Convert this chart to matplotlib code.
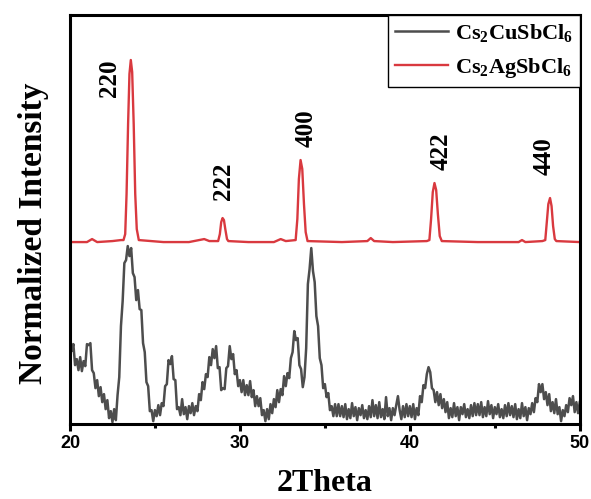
import numpy as np
import matplotlib
matplotlib.use("Agg")
import matplotlib.pyplot as plt
from matplotlib.ticker import MultipleLocator

plt.rcParams['mathtext.fontset'] = 'custom'
plt.rcParams['mathtext.rm'] = 'Liberation Serif:bold'
plt.rcParams['mathtext.bf'] = 'Liberation Serif:bold'
plt.rcParams['mathtext.default'] = 'bf'

# Cs2CuSbCl6, 20.0 .. 50.0 deg in 0.1 deg steps
cu_start, cu_step = 20.0, 0.1
cu_y = [
    90, 73, 80, 59, 65, 54, 67, 53, 63, 58,
    80, 79, 81, 54, 51, 36, 44, 28, 37, 22,
    30, 15, 24, 6, 13, 2, 15, 4, 29, 47,
    98, 123, 161, 164, 178, 168, 176, 151, 147, 124,
    134, 115, 114, 81, 72, 42, 38, 13, 14, 3,
    14, 8, 19, 9, 21, 18, 38, 40, 64, 60,
    68, 45, 44, 15, 17, 9, 25, 10, 17, 5,
    18, 11, 21, 9, 18, 13, 30, 24, 42, 35,
    50, 47, 67, 59, 75, 66, 78, 56, 57, 34,
    36, 35, 56, 58, 78, 65, 70, 50, 54, 38,
    44, 32, 44, 29, 39, 29, 43, 27, 34, 18,
    28, 18, 26, 9, 14, 3, 15, 5, 20, 11,
    25, 17, 34, 22, 35, 29, 48, 38, 51, 46,
    66, 72, 93, 84, 86, 59, 55, 37, 47, 76,
    140, 155, 176, 153, 142, 108, 98, 66, 59, 36,
    40, 27, 31, 14, 18, 8, 20, 8, 20, 8,
    18, 7, 20, 5, 15, 6, 21, 8, 17, 4,
    16, 9, 19, 6, 14, 5, 18, 7, 24, 8,
    19, 6, 22, 7, 15, 5, 27, 8, 16, 4,
    16, 9, 19, 28, 14, 5, 18, 7, 20, 8,
    18, 7, 20, 5, 16, 9, 28, 22, 39, 36,
    50, 57, 52, 36, 34, 22, 32, 19, 30, 16,
    25, 12, 22, 6, 16, 7, 21, 8, 17, 4,
    17, 10, 20, 7, 15, 6, 19, 8, 21, 9,
    20, 9, 22, 7, 17, 8, 23, 10, 19, 6,
    17, 10, 20, 7, 15, 6, 19, 8, 21, 9,
    18, 7, 20, 5, 15, 6, 21, 8, 17, 4,
    16, 10, 21, 12, 26, 22, 40, 32, 40, 25,
    32, 19, 30, 13, 22, 11, 25, 10, 17, 3,
    14, 8, 19, 12, 26, 19, 28, 12, 22, 11,
    22,
]
cu_x = cu_start + cu_step * np.arange(len(cu_y))

# Cs2AgSbCl6 (already shifted up in the figure)
ag_x = [20.0, 21.0, 21.3, 21.6, 22.5, 23.0, 23.15, 23.25, 23.33, 23.42,
        23.5, 23.58, 23.66, 23.75, 23.84, 23.93, 24.05, 25.5, 27.0, 27.9,
        28.2, 28.72, 28.82, 28.9, 28.98, 29.06, 29.14, 29.24, 29.32, 30.5,
        32.0, 32.4, 32.7, 33.28, 33.38, 33.47, 33.57, 33.67, 33.77, 33.87,
        33.98, 36.0, 37.5, 37.7, 37.9, 39.0, 41.0, 41.15, 41.25, 41.35,
        41.45, 41.55, 41.65, 41.76, 41.88, 44.0, 46.4, 46.6, 46.8, 47.8,
        47.97, 48.06, 48.15, 48.25, 48.34, 48.43, 48.53, 48.62, 50.0]
ag_y = [182, 182, 185, 182, 183, 184, 184, 190, 230, 300,
        350, 364, 352, 300, 230, 195, 184, 182, 182, 185,
        183, 183, 190, 202, 206, 204, 195, 185, 183, 182,
        182, 185, 183, 184, 205, 245, 264, 255, 220, 192,
        183, 182, 183, 186, 183, 182, 183, 184, 205, 232,
        241, 234, 210, 188, 183, 182, 182, 184, 182, 183,
        184, 202, 220, 226, 218, 198, 185, 183, 182]

peak_labels = ['220', '222', '400', '422', '440']
label_x = [22.35, 29.06, 33.88, 41.82, 47.9]
label_y = [327, 224, 277, 254, 249]

fig = plt.figure(figsize=(5.91, 4.99), dpi=100)
ax = fig.add_axes([0.1184, 0.150, 0.8626, 0.820])

ax.plot(cu_x, cu_y, color='#4d4d4d', lw=1.8, label=r'Cs$_2$CuSbCl$_6$')
ax.plot(ag_x, ag_y, color='#d9393f', lw=1.7, label=r'Cs$_2$AgSbCl$_6$')

for t, x, y in zip(peak_labels, label_x, label_y):
    ax.text(x, y, t, rotation=90, ha='center', va='bottom',
            family='Liberation Serif', weight='bold', fontsize=18)

ax.set_xlim(20, 50)
ax.set_ylim(0, 409)
ax.set_yticks([])
ax.xaxis.set_major_locator(MultipleLocator(10))
ax.xaxis.set_minor_locator(MultipleLocator(5))
ax.tick_params(axis='x', which='major', direction='out', length=5, width=2.2,
               pad=3, top=False)
ax.tick_params(axis='x', which='minor', direction='out', length=3, width=2.2,
               top=False)
for lab in ax.get_xticklabels():
    lab.set_family('Liberation Sans')
    lab.set_weight('bold')
    lab.set_fontsize(13)
for s in ax.spines.values():
    s.set_linewidth(2.2)

ax.set_xlabel('2Theta', family='Liberation Serif', weight='bold',
              fontsize=23, labelpad=12)
ax.set_ylabel('Normalized Intensity', family='Liberation Serif',
              weight='bold', fontsize=24)
ax.yaxis.set_label_coords(-0.042, 0.467)

leg = ax.legend(loc='upper right', borderaxespad=0, fancybox=False,
                edgecolor='black', framealpha=1, handlelength=2.4,
                handletextpad=0.3, borderpad=0.3, labelspacing=0.55,
                prop={'family': 'Liberation Serif', 'weight': 'bold',
                      'size': 16})
leg.get_frame().set_linewidth(1.0)

fig.savefig('out.png', dpi=100)
